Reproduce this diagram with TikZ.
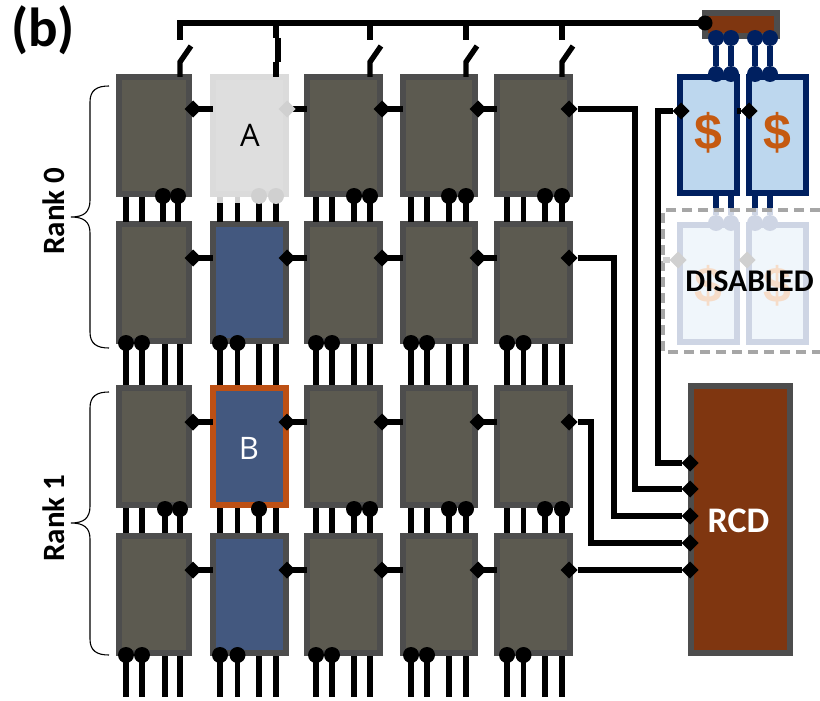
\documentclass[tikz,border=0pt]{standalone}
\usepackage{fontspec}
\setmainfont{Carlito}
\newfontfamily\opensansfont{Open Sans}
\newfontfamily\arialfont{Liberation Sans}
\usetikzlibrary{shapes.geometric}
\definecolor{edgegray}{HTML}{4D4D4D}
\definecolor{chipfill}{HTML}{5C5A50}
\definecolor{chipblue}{HTML}{43587F}
\definecolor{brown}{HTML}{7F3610}
\definecolor{navy}{HTML}{002060}
\definecolor{cachefill}{HTML}{BDD7EE}
\definecolor{dollar}{HTML}{C55A11}
\definecolor{fadegray}{HTML}{D0D0D0}
\definecolor{fadeborder}{HTML}{CED5E4}
\definecolor{fadefill}{HTML}{F0F6FB}
\definecolor{fadedollar}{HTML}{F6DCC8}
\definecolor{dashgray}{HTML}{A6A6A6}
\definecolor{bordero}{HTML}{BD5014}
\tikzset{
  boxed/.style={rectangle,draw=edgegray,line width=6pt,fill=chipfill,inner sep=0pt,outer sep=0pt},
  sty01/.style={draw=black!14,fill=black!13},
  sty11/.style={fill=chipblue},
  sty21/.style={fill=chipblue,draw=bordero},
  sty31/.style={fill=chipblue},
  cachebox/.style={boxed,draw=navy,fill=cachefill},
  fadebox/.style={boxed,draw=fadeborder,fill=fadefill},
  wire/.style={line width=5.4pt,black,line cap=butt,line join=miter},
  navywire/.style={line width=5.4pt,navy},
  pindot/.style={circle,fill=black,inner sep=0pt,outer sep=0pt,minimum size=16pt},
  tipmark/.style={diamond,fill=black,inner sep=0pt,outer sep=0pt,minimum size=17pt},
  curly/.style={line width=1.1pt,black},
  dollarsign/.style={font=\arialfont\bfseries\fontsize{50}{50}\selectfont,inner sep=0pt},
}
\newcommand{\boxat}[7]{%
  \node[#6,minimum width={(#3-#2-6)*1pt},minimum height={(#5-#4-6)*1pt}] (#1) at ({(#2+#3)/2},{(#4+#5)/2}) {#7};}
\begin{document}
\begin{tikzpicture}[x=1pt,y=-1pt]
\useasboundingbox (0,0) rectangle (820,701);
% chips
\foreach \r/\yt/\yb/\ym in {0/74/197/109,1/221/344/258,2/385/508/422,3/533/656/570}{
  \foreach \c/\xl/\xr/\dx in {0/116/192/193,1/210/289/287,2/304/383/382,3/400/478/478,4/494/573/569}{
    \boxat{c-\r-\c}{\xl}{\xr}{\yt}{\yb}{boxed,sty\r\c/.try}{}
    \coordinate (m-\r-\c) at (\dx,\ym);
  }
}
\node[font=\opensansfont\fontsize{31}{31}\selectfont,black,inner sep=0pt] (labelA) at (250,135) {A};
\node[font=\opensansfont\fontsize{31}{31}\selectfont,white,inner sep=0pt] (labelB) at (249,448) {B};
% horizontal links between chips
\foreach \r in {0,1,2,3}{
  \foreach \c/\n in {0/1,1/2,2/3,3/4}{
    \draw[wire] (m-\r-\c) -- (m-\r-\c -| c-\r-\n.west);
  }
}
% vertical pins
\foreach \r/\ya/\yb/\yd in {0/197/222/196,1/344/385/343,2/508/533/509,3/656/697/655}{
  \foreach \c/\pa/\pb/\pc/\pd in {0/126/142/165/180,1/220/237.5/259/276,2/316/332/354/370,3/411/427/449/466,4/507/523.5/545/562}{
    \foreach \k/\px in {1/\pa,2/\pb,3/\pc,4/\pd}{
      \pgfmathsetmacro\sh{((\r==0)&&(\c==0)&&(\k>2))?-2:0}
      \coordinate (pa-\r-\c-\k) at (\px+\sh,\ya);
      \coordinate (pb-\r-\c-\k) at (\px+\sh,\yb);
      \draw[wire] (pa-\r-\c-\k) -- (pb-\r-\c-\k);
    }
    \pgfmathtruncatemacro\isfade{((\r==0)&&(\c==1))?1:0}
    \pgfmathtruncatemacro\odd{(\r==1)||(\r==3)?1:0}
    \foreach \k/\px in {1/\pa,2/\pb,3/\pc,4/\pd}{
      \pgfmathsetmacro\sh{((\r==0)&&(\c==0)&&(\k>2))?-2:0}
      \pgfmathtruncatemacro\show{(\odd==1)?(\k<3?1:0):(\k>2?1:0)}
      \pgfmathtruncatemacro\skipit{((\r==2)&&(\c==1)&&(\k==4))?1:0}
      \ifnum\show=1\relax\ifnum\skipit=0\relax
        \ifnum\isfade=1\relax
          \node[pindot,fill=fadegray] (dot-\r-\c-\k) at (\px+\sh,\yd) {};
        \else
          \node[pindot] (dot-\r-\c-\k) at (\px+\sh,\yd) {};
        \fi
      \fi\fi
    }
  }
}
% faded stubs under chip A
\coordinate (stubA) at (220,203);
\coordinate (stubB) at (237.5,203);
\draw[line width=5.4pt,fadegray] (pa-0-1-1) -- (stubA);
\draw[line width=5.4pt,fadegray] (pa-0-1-2) -- (stubB);
% diamonds on chips
\foreach \r in {0,1,2,3}{
  \foreach \c in {0,1,2,3,4}{
    \pgfmathtruncatemacro\isfade{((\r==0)&&(\c==1))?1:0}
    \ifnum\isfade=1\relax
      \node[tipmark,fill=fadegray] (d-\r-\c) at (m-\r-\c) {};
    \else
      \node[tipmark] (d-\r-\c) at (m-\r-\c) {};
    \fi
  }
}
% top bus and switches
\boxat{sbox}{702}{780}{10}{39}{boxed,fill=brown}{}
\node[pindot,minimum size=15pt] (busdot) at (705,23) {};
\coordinate (busL) at (180,23);
\draw[wire] (busdot) -- (busL) -- ++(0,17);
\foreach \c/\x/\lean in {0/180/1,2/370/1,3/466/1,4/562/1}{
  \coordinate (busT-\c) at (\x,23);
  \coordinate (swU-\c) at (\x,40);
  \coordinate (swM-\c) at (\x,62);
  \coordinate (swE-\c) at (\x+11,46);
  \draw[wire] (busT-\c) -- (swU-\c);
  \draw[wire] (swE-\c) -- (swM-\c) -- (swM-\c |- c-0-\c.north);
}
\coordinate (busT-1) at (276,23);
\coordinate (jogA) at (276,38);
\coordinate (jogB) at (278,38);
\coordinate (jogC) at (278,62);
\coordinate (jogD) at (276,62);
\draw[wire] (busT-1) -- (jogA);
\draw[wire] (jogB) -- (jogC);
\draw[wire] (jogD) -- (jogD |- c-0-1.north);
% caches
\boxat{cache1}{677}{740}{74}{196}{cachebox}{}
\boxat{cache2}{746}{809}{74}{196}{cachebox}{}
\node[dollarsign,text=dollar] (dollar1) at (708,133) {\$};
\node[dollarsign,text=dollar] (dollar2) at (777,133) {\$};
\foreach \k/\x in {1/716,2/731,3/755,4/770}{
  \node[pindot,fill=navy] (st-\k) at (\x,38) {};
  \node[pindot,fill=navy] (cb-\k) at (\x,74) {};
  \draw[navywire] (st-\k) -- (cb-\k);
}
% disabled caches
\boxat{off1}{677}{740}{222}{345}{fadebox}{}
\boxat{off2}{746}{809}{222}{345}{fadebox}{}
\node[dollarsign,text=fadedollar] (dollar3) at (708,286) {\$};
\node[dollarsign,text=fadedollar] (dollar4) at (777,286) {\$};
\foreach \k/\x in {1/716,2/731,3/755,4/770}{
  \coordinate (ub-\k) at (\x,196);
  \coordinate (um-\k) at (\x,208);
  \node[pindot,fill=fadeborder] (ud-\k) at (\x,223) {};
  \draw[navywire] (ub-\k) -- (um-\k);
  \draw[line width=5.4pt,fadeborder] (um-\k) -- (ud-\k);
}
% RCD
\boxat{rcd}{688}{793}{383}{656}{boxed,fill=brown}{}
\node[font=\bfseries\fontsize{36}{36}\selectfont,text=white,inner sep=0pt] (rcdlabel) at (738.5,521) {RCD};
\foreach \k/\y in {1/463,2/489,3/516,4/543,5/570}{
  \node[tipmark] (rcd-\k) at (690,\y) {};
}
% wires to RCD
\coordinate (v0) at (635,300);
\coordinate (v1) at (614,400);
\coordinate (v2) at (591,480);
\coordinate (vc) at (658,300);
\draw[wire] (d-0-4) -| (v0) |- (rcd-2);
\draw[wire] (d-1-4) -| (v1) |- (rcd-3);
\draw[wire] (d-2-4) -| (v2) |- (rcd-4);
\draw[wire] (d-3-4) -- (rcd-5);
\node[tipmark] (ck1) at (681,111) {};
\node[tipmark] (ck2) at (749,111) {};
\draw[wire] (ck1) -| (vc) |- (rcd-1);
\draw[wire] (ck2) -- (ck2 -| cache1.east);
% disabled frame
\coordinate (dashA) at (820,210);
\coordinate (dashB) at (663,210);
\coordinate (dashC) at (663,352);
\coordinate (dashD) at (820,352);
\draw[line width=4pt,dashgray,dash pattern=on 10pt off 6pt] (dashA) -- (dashB) -- (dashC) -- (dashD);
\node[tipmark,fill=fadegray] (ck3) at (678,260) {};
\node[tipmark,fill=fadegray] (ck4) at (747,260) {};
\draw[line width=5.4pt,fadegray] (ck3) -- (ck3 -| dashB);
\node[font=\bfseries\fontsize{31.6}{32}\selectfont,black,inner sep=0pt] (disabled) at (749.5,281) {DISABLED};
% braces
\draw[curly] (109,86) .. controls (97,86) and (90,90) .. (90,102) -- (90,200) .. controls (90,212) and (84,217) .. (71,217) .. controls (84,217) and (90,222) .. (90,233) -- (90,332) .. controls (90,344) and (97,348) .. (109,348);
\draw[curly] (109,392) .. controls (97,392) and (90,396) .. (90,408) -- (90,506) .. controls (90,518) and (84,523) .. (71,523) .. controls (84,523) and (90,528) .. (90,539) -- (90,639) .. controls (90,651) and (97,655) .. (109,655);
\node[font=\bfseries\fontsize{31}{31}\selectfont,rotate=90,inner sep=0pt] (rank0) at (54,211) {Rank 0};
\node[font=\bfseries\fontsize{31}{31}\selectfont,rotate=90,inner sep=0pt] (rank1) at (54,518) {Rank 1};
\node[font=\bfseries\fontsize{55}{55}\selectfont,inner sep=0pt] (panel) at (43,30) {(b)};
\end{tikzpicture}
\end{document}
